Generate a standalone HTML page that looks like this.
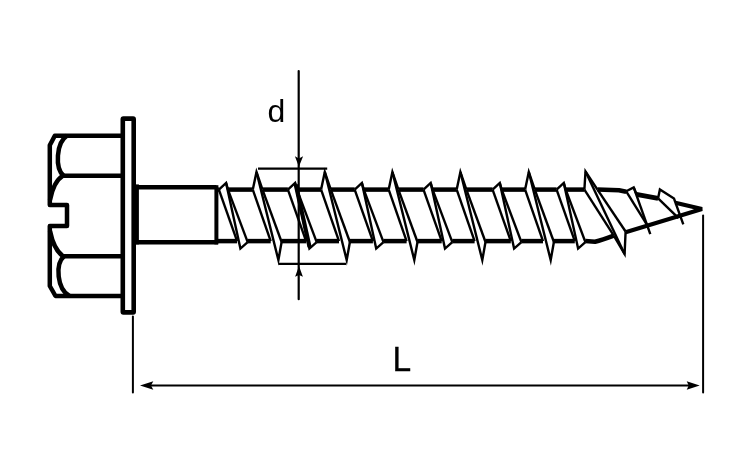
<!DOCTYPE html>
<html><head><meta charset="utf-8"><style>
html,body{margin:0;padding:0;background:#fff;width:750px;height:450px;overflow:hidden}
svg{display:block}
text{font-family:"Liberation Sans",sans-serif;fill:#000}
svg{will-change:transform}
</style></head><body>
<svg width="750" height="450" viewBox="0 0 750 450">
<g fill="none" stroke="#000" stroke-miterlimit="10">
<path d="M121,135.7 L54.8,135.7 L49.8,145.3 L49.8,205 L67,205 L67,226 L49.8,226 L49.8,286 L55.5,296 L121,296" stroke-width="4.5" stroke-linejoin="round" stroke-linecap="butt"/>
<line x1="62" y1="175.7" x2="121" y2="175.7" stroke-width="4.5" stroke-linecap="butt"/>
<line x1="62" y1="256.3" x2="121" y2="256.3" stroke-width="4.5" stroke-linecap="butt"/>
<path d="M67,135.7 C56,143 55,168 63.5,175.7" stroke-width="4.5" stroke-linejoin="miter" stroke-linecap="butt"/>
<path d="M63,175.7 C56,180 52,190 50,200" stroke-width="4.5" stroke-linejoin="miter" stroke-linecap="butt"/>
<path d="M50,231 C52,241 56,251 63,256.3" stroke-width="4.5" stroke-linejoin="miter" stroke-linecap="butt"/>
<path d="M64,256.3 C55,264 57,289 69.5,296" stroke-width="4.5" stroke-linejoin="miter" stroke-linecap="butt"/>
<rect x="122.8" y="118.6" width="10.9" height="193.8" rx="0.6" stroke-width="4.6"/>
<line x1="137.2" y1="184.4" x2="137.2" y2="244.4" stroke-width="3.4" stroke-linecap="butt"/>
<line x1="136" y1="187.3" x2="216.4" y2="187.3" stroke-width="4.4" stroke-linecap="butt"/>
<line x1="136" y1="242.2" x2="218" y2="242.2" stroke-width="4.4" stroke-linecap="butt"/>
<line x1="216.4" y1="185.2" x2="216.4" y2="244.4" stroke-width="4" stroke-linecap="butt"/>
<polyline points="218.9,189.6 226.1,182.9 228,189.6" stroke-width="2.4" stroke-linejoin="miter" stroke-linecap="butt"/>
<line x1="218.9" y1="189.6" x2="237.1" y2="241.1" stroke-width="2.4" stroke-linecap="butt"/>
<polyline points="226.1,182.9 240.4,248.6 247.7,242.2" stroke-width="2.4" stroke-linejoin="miter" stroke-linecap="butt"/>
<line x1="228" y1="189.6" x2="247.7" y2="242.2" stroke-width="2.4" stroke-linecap="butt"/>
<polyline points="252.8,189.6 256.5,172 262.5,189.6" stroke-width="2.4" stroke-linejoin="miter" stroke-linecap="butt"/>
<line x1="252.8" y1="189.6" x2="270.7" y2="241.1" stroke-width="2.4" stroke-linecap="butt"/>
<polyline points="256.5,172 278.4,260.1 281.6,242" stroke-width="2.4" stroke-linejoin="miter" stroke-linecap="butt"/>
<line x1="262.5" y1="189.6" x2="281.6" y2="242" stroke-width="2.4" stroke-linecap="butt"/>
<polyline points="287.9,189.6 295.1,182.9 297,189.6" stroke-width="2.4" stroke-linejoin="miter" stroke-linecap="butt"/>
<line x1="287.9" y1="189.6" x2="306.1" y2="241.1" stroke-width="2.4" stroke-linecap="butt"/>
<polyline points="295.1,182.9 309.4,248.6 316.7,242.2" stroke-width="2.4" stroke-linejoin="miter" stroke-linecap="butt"/>
<line x1="297" y1="189.6" x2="316.7" y2="242.2" stroke-width="2.4" stroke-linecap="butt"/>
<polyline points="321.1,189.6 324.8,172 330.8,189.6" stroke-width="2.4" stroke-linejoin="miter" stroke-linecap="butt"/>
<line x1="321.1" y1="189.6" x2="339" y2="241.1" stroke-width="2.4" stroke-linecap="butt"/>
<polyline points="324.8,172 346.7,260.1 349.9,242" stroke-width="2.4" stroke-linejoin="miter" stroke-linecap="butt"/>
<line x1="330.8" y1="189.6" x2="349.9" y2="242" stroke-width="2.4" stroke-linecap="butt"/>
<polyline points="354.7,189.6 361.9,182.9 363.8,189.6" stroke-width="2.4" stroke-linejoin="miter" stroke-linecap="butt"/>
<line x1="354.7" y1="189.6" x2="372.9" y2="241.1" stroke-width="2.4" stroke-linecap="butt"/>
<polyline points="361.9,182.9 376.2,248.6 383.5,242.2" stroke-width="2.4" stroke-linejoin="miter" stroke-linecap="butt"/>
<line x1="363.8" y1="189.6" x2="383.5" y2="242.2" stroke-width="2.4" stroke-linecap="butt"/>
<polyline points="388.7,189.6 392.4,172 398.4,189.6" stroke-width="2.4" stroke-linejoin="miter" stroke-linecap="butt"/>
<line x1="388.7" y1="189.6" x2="406.6" y2="241.1" stroke-width="2.4" stroke-linecap="butt"/>
<polyline points="392.4,172 414.3,260.1 417.5,242" stroke-width="2.4" stroke-linejoin="miter" stroke-linecap="butt"/>
<line x1="398.4" y1="189.6" x2="417.5" y2="242" stroke-width="2.4" stroke-linecap="butt"/>
<polyline points="423.5,189.6 430.7,182.9 432.6,189.6" stroke-width="2.4" stroke-linejoin="miter" stroke-linecap="butt"/>
<line x1="423.5" y1="189.6" x2="441.7" y2="241.1" stroke-width="2.4" stroke-linecap="butt"/>
<polyline points="430.7,182.9 445,248.6 452.3,242.2" stroke-width="2.4" stroke-linejoin="miter" stroke-linecap="butt"/>
<line x1="432.6" y1="189.6" x2="452.3" y2="242.2" stroke-width="2.4" stroke-linecap="butt"/>
<polyline points="456.7,189.6 460.4,172 466.4,189.6" stroke-width="2.4" stroke-linejoin="miter" stroke-linecap="butt"/>
<line x1="456.7" y1="189.6" x2="474.6" y2="241.1" stroke-width="2.4" stroke-linecap="butt"/>
<polyline points="460.4,172 482.3,260.1 485.5,242" stroke-width="2.4" stroke-linejoin="miter" stroke-linecap="butt"/>
<line x1="466.4" y1="189.6" x2="485.5" y2="242" stroke-width="2.4" stroke-linecap="butt"/>
<polyline points="492.6,189.6 499.8,182.9 501.7,189.6" stroke-width="2.4" stroke-linejoin="miter" stroke-linecap="butt"/>
<line x1="492.6" y1="189.6" x2="510.8" y2="241.1" stroke-width="2.4" stroke-linecap="butt"/>
<polyline points="499.8,182.9 514.1,248.6 521.4,242.2" stroke-width="2.4" stroke-linejoin="miter" stroke-linecap="butt"/>
<line x1="501.7" y1="189.6" x2="521.4" y2="242.2" stroke-width="2.4" stroke-linecap="butt"/>
<polyline points="525.1,189.6 528.8,172 534.8,189.6" stroke-width="2.4" stroke-linejoin="miter" stroke-linecap="butt"/>
<line x1="525.1" y1="189.6" x2="543" y2="241.1" stroke-width="2.4" stroke-linecap="butt"/>
<polyline points="528.8,172 550.7,260.1 553.9,242" stroke-width="2.4" stroke-linejoin="miter" stroke-linecap="butt"/>
<line x1="534.8" y1="189.6" x2="553.9" y2="242" stroke-width="2.4" stroke-linecap="butt"/>
<polyline points="556.6,189.6 563.8,182.9 565.7,189.6" stroke-width="2.4" stroke-linejoin="miter" stroke-linecap="butt"/>
<line x1="556.6" y1="189.6" x2="574.8" y2="241.1" stroke-width="2.4" stroke-linecap="butt"/>
<polyline points="563.8,182.9 578.1,248.6 585.4,242.2" stroke-width="2.4" stroke-linejoin="miter" stroke-linecap="butt"/>
<line x1="565.7" y1="189.6" x2="585.4" y2="242.2" stroke-width="2.4" stroke-linecap="butt"/>
<line x1="295.7" y1="184.4" x2="309.6" y2="247.1" stroke-width="4.2" stroke-linecap="butt"/>
<line x1="216.4" y1="189.6" x2="218.9" y2="189.6" stroke-width="4.5" stroke-linecap="butt"/>
<line x1="228" y1="189.6" x2="252.8" y2="189.6" stroke-width="4.5" stroke-linecap="butt"/>
<line x1="262.5" y1="189.6" x2="287.9" y2="189.6" stroke-width="4.5" stroke-linecap="butt"/>
<line x1="297" y1="189.6" x2="321.1" y2="189.6" stroke-width="4.5" stroke-linecap="butt"/>
<line x1="330.8" y1="189.6" x2="354.7" y2="189.6" stroke-width="4.5" stroke-linecap="butt"/>
<line x1="363.8" y1="189.6" x2="388.7" y2="189.6" stroke-width="4.5" stroke-linecap="butt"/>
<line x1="398.4" y1="189.6" x2="423.5" y2="189.6" stroke-width="4.5" stroke-linecap="butt"/>
<line x1="432.6" y1="189.6" x2="456.7" y2="189.6" stroke-width="4.5" stroke-linecap="butt"/>
<line x1="466.4" y1="189.6" x2="492.6" y2="189.6" stroke-width="4.5" stroke-linecap="butt"/>
<line x1="501.7" y1="189.6" x2="525.1" y2="189.6" stroke-width="4.5" stroke-linecap="butt"/>
<line x1="534.8" y1="189.6" x2="556.6" y2="189.6" stroke-width="4.5" stroke-linecap="butt"/>
<line x1="218" y1="241.1" x2="237.1" y2="241.1" stroke-width="4.5" stroke-linecap="butt"/>
<line x1="247.7" y1="241.1" x2="270.7" y2="241.1" stroke-width="4.5" stroke-linecap="butt"/>
<line x1="281.6" y1="241.1" x2="306.1" y2="241.1" stroke-width="4.5" stroke-linecap="butt"/>
<line x1="316.7" y1="241.1" x2="339" y2="241.1" stroke-width="4.5" stroke-linecap="butt"/>
<line x1="349.9" y1="241.1" x2="372.9" y2="241.1" stroke-width="4.5" stroke-linecap="butt"/>
<line x1="383.5" y1="241.1" x2="406.6" y2="241.1" stroke-width="4.5" stroke-linecap="butt"/>
<line x1="417.5" y1="241.1" x2="441.7" y2="241.1" stroke-width="4.5" stroke-linecap="butt"/>
<line x1="452.3" y1="241.1" x2="474.6" y2="241.1" stroke-width="4.5" stroke-linecap="butt"/>
<line x1="485.5" y1="241.1" x2="510.8" y2="241.1" stroke-width="4.5" stroke-linecap="butt"/>
<line x1="521.4" y1="241.1" x2="543" y2="241.1" stroke-width="4.5" stroke-linecap="butt"/>
<line x1="553.9" y1="241.1" x2="574.8" y2="241.1" stroke-width="4.5" stroke-linecap="butt"/>
<polyline points="584.4,189.6 585.5,171.5 597.5,189.6" stroke-width="2.4" stroke-linejoin="miter" stroke-linecap="butt"/>
<line x1="584.4" y1="189.6" x2="613.8" y2="235.6" stroke-width="2.4" stroke-linecap="butt"/>
<line x1="585.5" y1="171.5" x2="624.6" y2="254" stroke-width="2.4" stroke-linecap="butt"/>
<line x1="597.5" y1="189.6" x2="625.6" y2="231.5" stroke-width="2.4" stroke-linecap="butt"/>
<polyline points="613.8,235.6 624.6,254 625.6,231.5" stroke-width="2.4" stroke-linejoin="miter" stroke-linecap="butt"/>
<line x1="565.7" y1="189.6" x2="584.4" y2="189.6" stroke-width="4.5" stroke-linecap="butt"/>
<path d="M585.4,241.1 L595,241.7 Q602,240 613.8,235.6" stroke-width="4.5" stroke-linejoin="round" stroke-linecap="butt"/>
<polyline points="597.5,189.6 619,190.3 626.2,191.8" stroke-width="4.5" stroke-linejoin="round" stroke-linecap="butt"/>
<polyline points="626.2,191.3 633.7,187.4 636.3,193.7" stroke-width="2.4" stroke-linejoin="miter" stroke-linecap="butt"/>
<line x1="626.2" y1="191.3" x2="647.2" y2="225.2" stroke-width="2.4" stroke-linecap="butt"/>
<line x1="633.7" y1="187.4" x2="650.3" y2="234.1" stroke-width="2.4" stroke-linecap="butt"/>
<line x1="636.3" y1="194.4" x2="658.1" y2="198.3" stroke-width="4.9" stroke-linecap="butt"/>
<polyline points="658.1,198.3 659.9,189.5 674,198.6 683.3,224.3" stroke-width="2.4" stroke-linejoin="miter" stroke-linecap="butt"/>
<line x1="658.1" y1="198.3" x2="678.5" y2="218.2" stroke-width="2.4" stroke-linecap="butt"/>
<polyline points="675.3,202.7 702,209 625.6,232.3" stroke-width="4.2" stroke-linejoin="bevel" stroke-linecap="butt"/>
<line x1="298.7" y1="71.1" x2="298.7" y2="299.2" stroke-width="2.2" stroke-linecap="round"/>
<line x1="258" y1="168.6" x2="327.2" y2="168.6" stroke-width="2.2" stroke-linecap="butt"/>
<line x1="278.5" y1="263.9" x2="346" y2="263.9" stroke-width="2.2" stroke-linecap="butt"/>
<line x1="132.9" y1="316.5" x2="132.9" y2="392.4" stroke-width="2" stroke-linecap="round"/>
<line x1="703.1" y1="215.6" x2="703.1" y2="392.4" stroke-width="2" stroke-linecap="round"/>
<line x1="148" y1="385.5" x2="690" y2="385.5" stroke-width="1.8" stroke-linecap="butt"/>
<polygon points="298.9,166.8 294.9,156.3 298.9,158.4 303.1,156.3" fill="#000" stroke="none"/>
<polygon points="299,266.1 295.1,276.7 299,275 302.9,276.7" fill="#000" stroke="none"/>
<polygon points="140,385.5 153.3,381.3 151,385.5 153.3,389.7" fill="#000" stroke="none"/>
<polygon points="699.7,385.5 686.7,381.3 688.7,385.5 686.7,389.7" fill="#000" stroke="none"/>
</g>
<text x="267.4" y="122.2" font-size="32">d</text>
<text x="0" y="0" font-size="35" transform="translate(392.6,371.2) scale(0.96,1)" stroke="#000" stroke-width="0.3">L</text>
</svg>
</body></html>
